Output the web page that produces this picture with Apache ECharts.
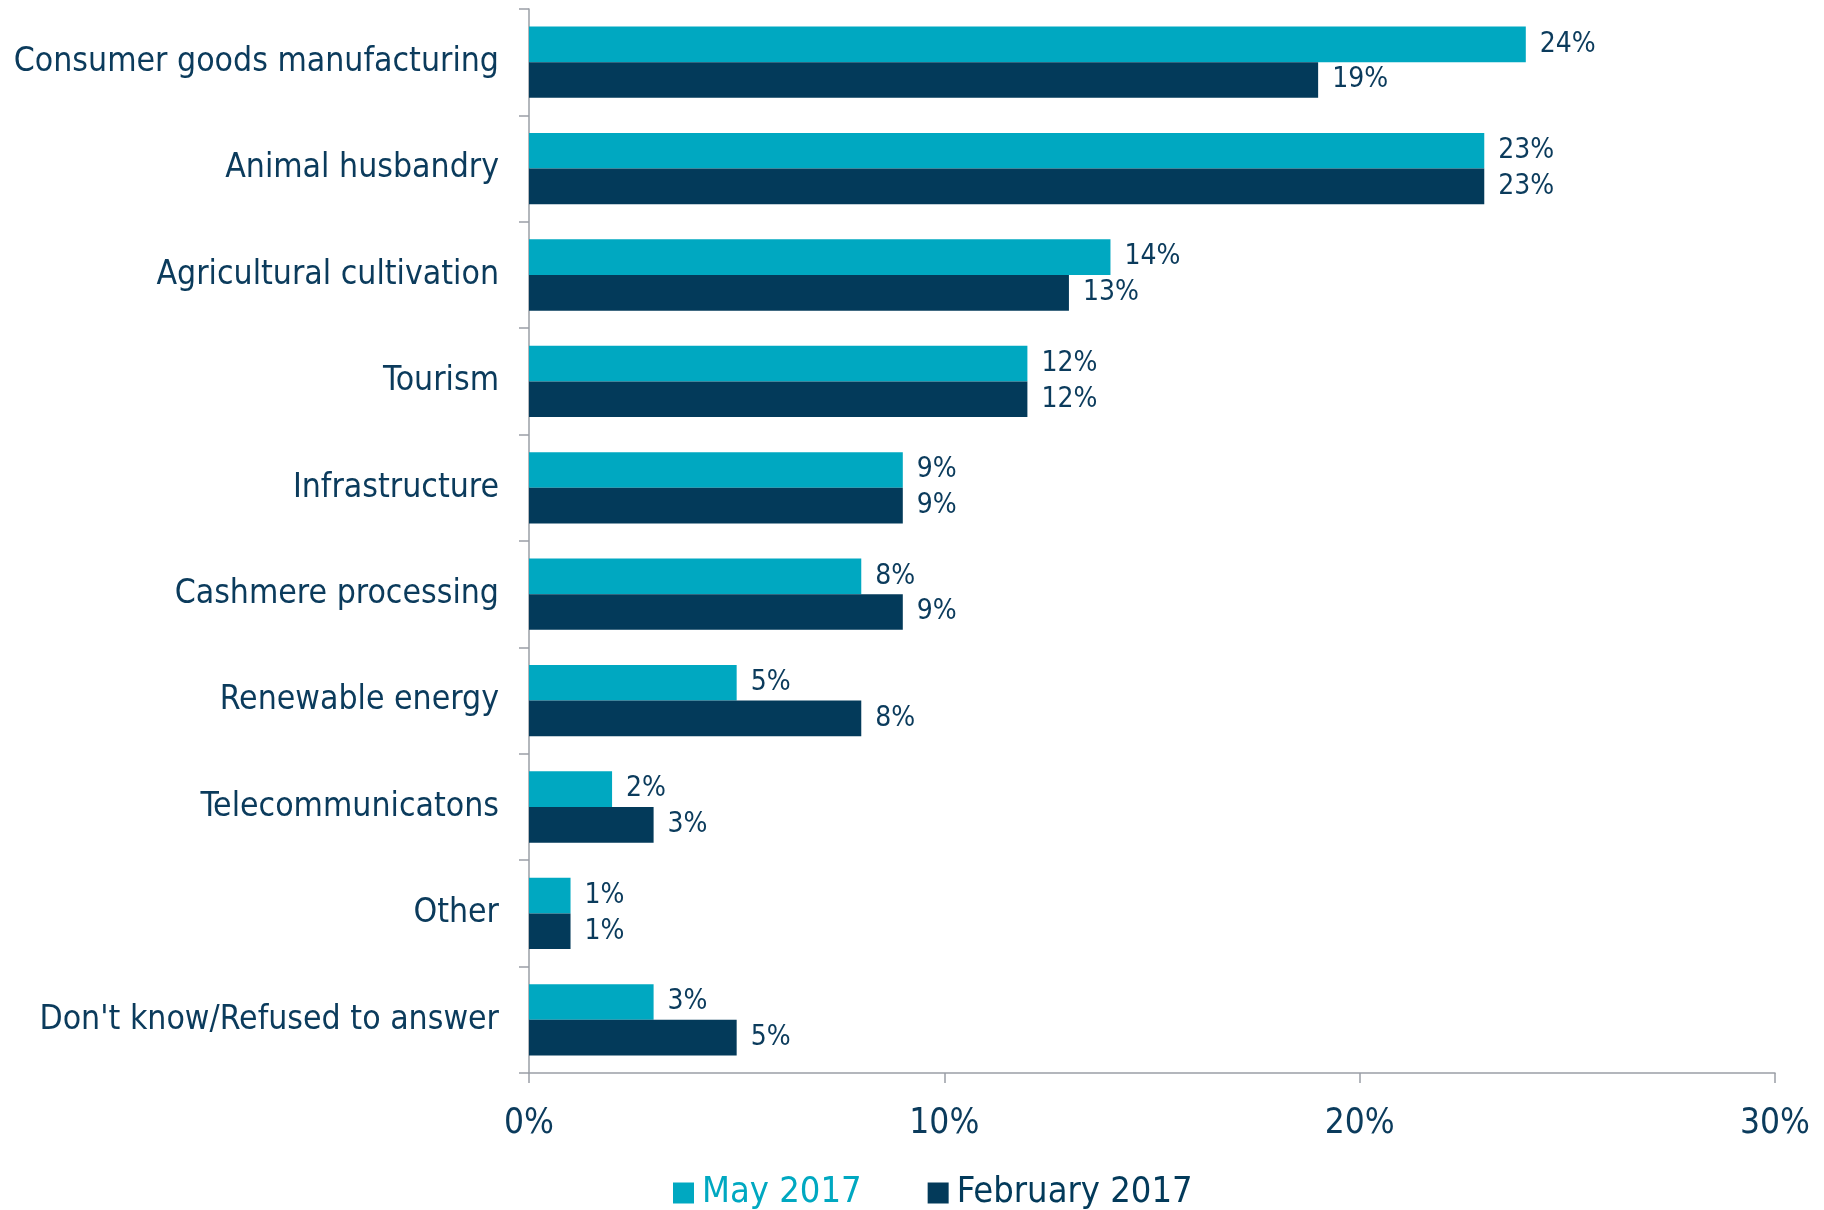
<!DOCTYPE html>
<html><head><meta charset="utf-8">
<script src="https://cdn.jsdelivr.net/npm/echarts@6/dist/echarts.min.js"></script>
<style>html,body{margin:0;padding:0;background:#fff}#c{width:1824px;height:1210px}</style>
</head><body><div id="c"></div>
<script>
const categories = ["Consumer goods manufacturing","Animal husbandry","Agricultural cultivation","Tourism","Infrastructure","Cashmere processing","Renewable energy","Telecommunicatons","Other","Don't know/Refused to answer"];
const may2017 = [24,23,14,12,9,8,5,2,1,3];
const feb2017 = [19,23,13,12,9,9,8,3,1,5];
const seriesNames = ["May 2017","February 2017"];
const xTicks = [0,10,20,30];

const FONT = '"DejaVu Sans Condensed", "DejaVu Sans", sans-serif';
const NAVY = '#033A5A', TEAL = '#00A8C1', TXT = '#0B3B5C';
const chart = echarts.init(document.getElementById('c'));
const lbl = {show:true, position:'right', distance:14, formatter:'{c}%', color:TXT, fontFamily:FONT, fontSize:28};
chart.setOption({
  animation:false,
  textStyle:{fontFamily:FONT},
  grid:{left:529, right:49, top:9, bottom:137, containLabel:false},
  legend:{bottom:-6, left:668, itemWidth:21, itemHeight:21, itemGap:66, icon:'rect',
    textStyle:{fontSize:36, fontFamily:FONT, padding:[0,0,0,3]},
    data:[{name:seriesNames[0], textStyle:{color:TEAL}},{name:seriesNames[1], textStyle:{color:NAVY}}]},
  xAxis:{type:'value', min:xTicks[0], max:xTicks[xTicks.length-1], interval:10,
    axisLine:{show:true, lineStyle:{color:'#9A9FA6', width:1.5}},
    axisTick:{show:true, length:10, lineStyle:{color:'#9A9FA6', width:1.5}},
    splitLine:{show:false},
    axisLabel:{formatter:'{value}%', color:TXT, fontSize:35, fontFamily:FONT, margin:33}},
  yAxis:{type:'category', data:categories, inverse:true,
    axisLine:{show:true, lineStyle:{color:'#9A9FA6', width:1.5}},
    axisTick:{show:true, length:10, lineStyle:{color:'#9A9FA6', width:1.5}},
    axisLabel:{color:TXT, fontSize:33.5, fontFamily:FONT, margin:30}},
  series:[
    {name:seriesNames[0], type:'bar', data:may2017, itemStyle:{color:TEAL}, barGap:'0%', barCategoryGap:'33%', label:lbl},
    {name:seriesNames[1], type:'bar', data:feb2017, itemStyle:{color:NAVY}, barGap:'0%', barCategoryGap:'33%', label:lbl}
  ]
});
</script></body></html>
